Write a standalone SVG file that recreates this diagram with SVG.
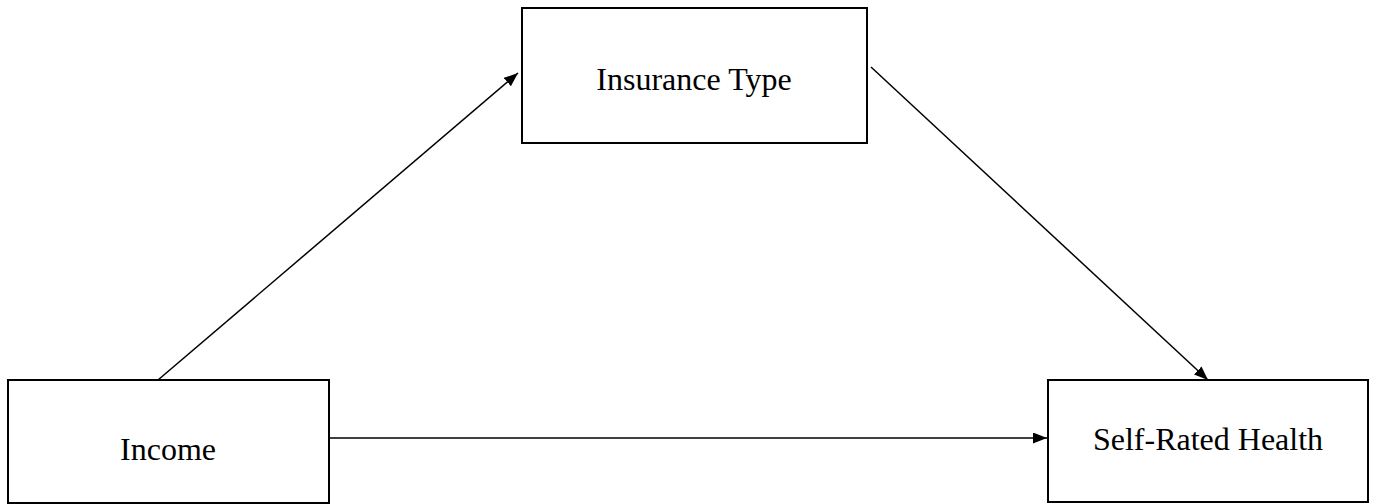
<svg xmlns="http://www.w3.org/2000/svg" width="1374" height="504" viewBox="0 0 1374 504">
  <style>
    .box { fill: #fff; stroke: #000; stroke-width: 2; }
    .lbl { font-family: "Liberation Serif", "Times New Roman", serif; font-size: 32px; fill: #000; text-anchor: middle; }
    .edge { stroke: #000; stroke-width: 1.5; fill: none; marker-end: url(#arrow); }
  </style>
  <defs>
    <marker id="arrow" viewBox="0 0 14 11" refX="14" refY="5.5" markerWidth="14" markerHeight="11" markerUnits="userSpaceOnUse" orient="auto">
      <path d="M0,0 L14,5.5 L0,11 Z" fill="#000"/>
    </marker>
  </defs>
  <rect width="1374" height="504" fill="#fff"/>
  <g id="connectors">
    <line class="edge" x1="158" y1="380" x2="518" y2="73"/>
    <line class="edge" x1="871" y1="67" x2="1208" y2="380"/>
    <line class="edge" x1="329" y1="438" x2="1047" y2="438"/>
  </g>
  <g id="insurance-type">
    <rect class="box" x="522" y="8" width="345" height="135"/>
    <text class="lbl" x="694" y="90">Insurance Type</text>
  </g>
  <g id="income">
    <rect class="box" x="8" y="380" width="321" height="123"/>
    <text class="lbl" x="168" y="460">Income</text>
  </g>
  <g id="self-rated-health">
    <rect class="box" x="1048" y="380" width="320" height="122"/>
    <text class="lbl" x="1208" y="450">Self-Rated Health</text>
  </g>
</svg>
